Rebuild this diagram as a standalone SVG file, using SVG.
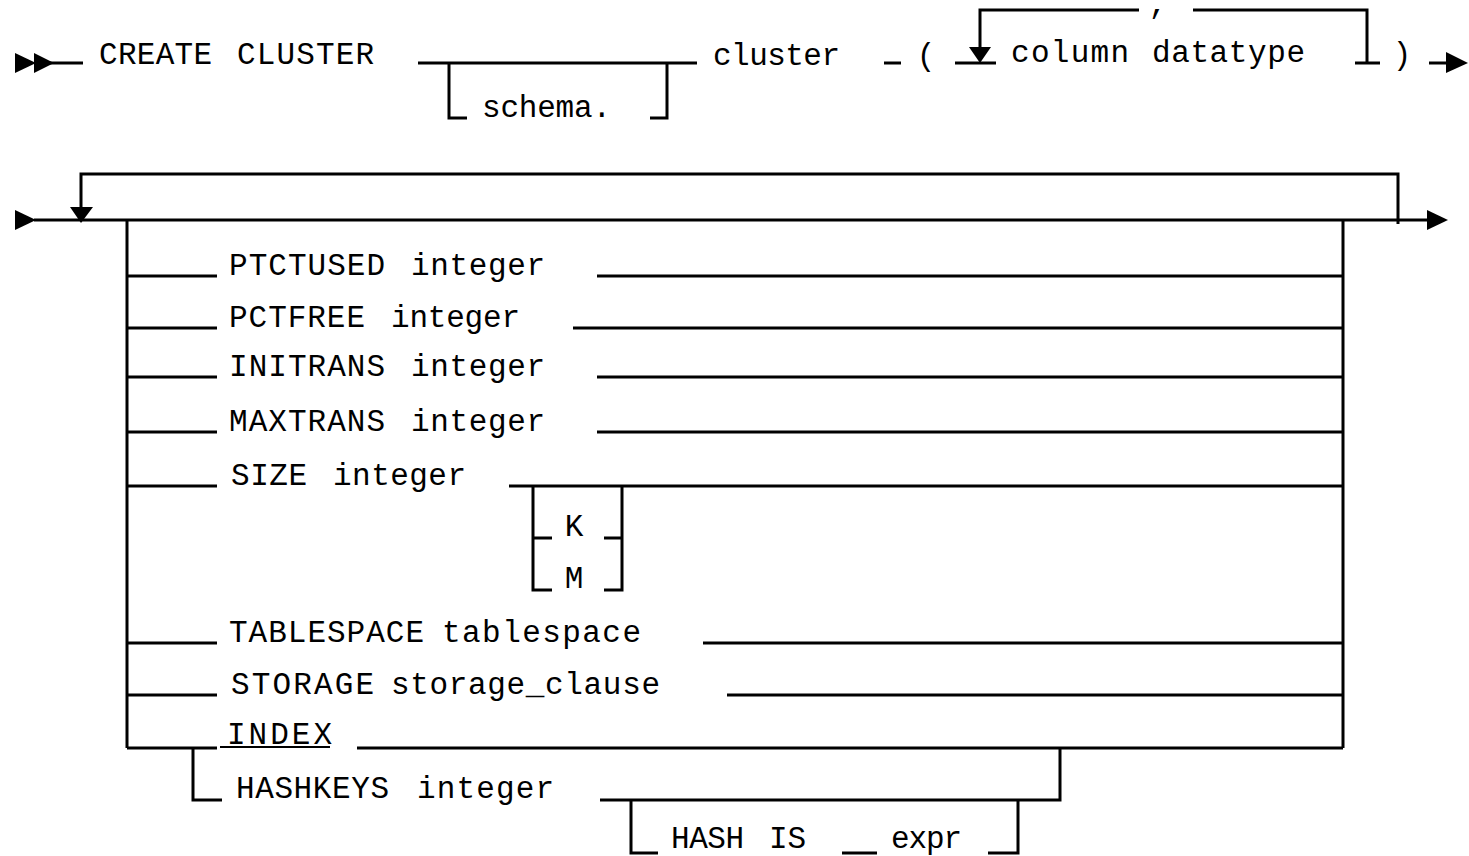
<svg xmlns="http://www.w3.org/2000/svg" width="1469" height="856" viewBox="0 0 1469 856">
<style>
.t{font-family:"Liberation Mono","DejaVu Sans Mono",monospace;font-size:31px;fill:#000}
.c{text-anchor:middle}
.w{fill:none;stroke:#000;stroke-width:3;stroke-linejoin:miter}
.a{fill:#000;stroke:none}
</style>
<rect width="1469" height="856" fill="#fff"/>
<g id="connectors">
<path class="w" d="M50,63 H83"/>
<path class="w" d="M418,63 H697 M449,63 V118 H467 M650,118 H667 V63"/>
<path class="w" d="M884,63 H901"/>
<path class="w" d="M955,63 H996 M980,48 V10 H1139 M1193,10 H1367 V63 M1355,63 H1380"/>
<path class="w" d="M1429,63 H1448"/>
<polygon class="a" points="15,53 36,63 15,73"/>
<polygon class="a" points="34,53 54,63 34,73"/>
<polygon class="a" points="969,47 991,47 980,63"/>
<polygon class="a" points="1446,52 1468,63 1446,73"/>
<path class="w" d="M34,220 H1429 M81,208 V174 H1398 V224"/>
<polygon class="a" points="15,210 36,220 15,230"/>
<polygon class="a" points="70,207 93,207 81,223"/>
<polygon class="a" points="1427,210 1448,220 1427,230"/>
<path class="w" d="M127,220 V748 M1343,220 V748"/>
<path class="w" d="M127,276 H217 M597,276 H1343"/>
<path class="w" d="M127,328 H217 M573,328 H1343"/>
<path class="w" d="M127,377 H217 M597,377 H1343"/>
<path class="w" d="M127,432 H217 M597,432 H1343"/>
<path class="w" d="M127,486 H217 M509,486 H1343"/>
<path class="w" d="M533,486 V590 H552 M533,538 H552 M604,538 H622 M604,590 H622 V486"/>
<path class="w" d="M127,643 H217 M703,643 H1343"/>
<path class="w" d="M127,695 H217 M727,695 H1343"/>
<path class="w" d="M127,748 H217 M357,748 H1343"/>
<path class="w" d="M193,748 V800 H222 M600,800 H1060 V748"/>
<path class="w" d="M631,800 V853 H658 M842,853 H877 M988,853 H1018 V800"/>
</g>
<g id="n-create"><text class="t" x="99" y="64" textLength="113">CREATE</text><text class="t" x="237" y="64" textLength="137">CLUSTER</text></g>
<g id="n-schema"><text class="t" x="482" y="117" textLength="129">schema.</text></g>
<g id="n-cluster"><text class="t" x="713" y="65" textLength="127">cluster</text></g>
<g id="n-lparen"><text class="t c" x="926" y="65">(</text></g>
<g id="n-column"><text class="t" x="1011" y="62" textLength="118">column</text><text class="t" x="1152" y="62" textLength="153">datatype</text></g>
<g id="n-comma"><text class="t c" x="1158" y="13">,</text></g>
<g id="n-rparen"><text class="t c" x="1402" y="64">)</text></g>
<g id="n-ptctused"><text class="t" x="229" y="275" textLength="156">PTCTUSED</text><text class="t" x="411" y="275" textLength="134">integer</text></g>
<g id="n-pctfree"><text class="t" x="229" y="327" textLength="136">PCTFREE</text><text class="t" x="391" y="327" textLength="129">integer</text></g>
<g id="n-initrans"><text class="t" x="229" y="376" textLength="156">INITRANS</text><text class="t" x="411" y="376" textLength="134">integer</text></g>
<g id="n-maxtrans"><text class="t" x="229" y="431" textLength="156">MAXTRANS</text><text class="t" x="411" y="431" textLength="134">integer</text></g>
<g id="n-size"><text class="t" x="231" y="485" textLength="76">SIZE</text><text class="t" x="333" y="485" textLength="133">integer</text></g>
<g id="n-k"><text class="t c" x="574" y="536">K</text></g>
<g id="n-m"><text class="t c" x="574" y="588">M</text></g>
<g id="n-tablespace"><text class="t" x="229" y="642" textLength="195">TABLESPACE</text><text class="t" x="442" y="642" textLength="199">tablespace</text></g>
<g id="n-storage"><text class="t" x="231" y="694" textLength="143">STORAGE</text><text class="t" x="391" y="694" textLength="269">storage_clause</text></g>
<g id="n-index"><text class="t" x="227" y="744" textLength="105">INDEX</text><path d="M220,747 H330" stroke="#000" stroke-width="2"/></g>
<g id="n-hashkeys"><text class="t" x="236" y="798" textLength="153">HASHKEYS</text><text class="t" x="417" y="798" textLength="137">integer</text></g>
<g id="n-hashis"><text class="t" x="671" y="848" textLength="73">HASH</text><text class="t" x="769" y="848">IS</text><text class="t" x="891" y="848" textLength="71">expr</text></g>
</svg>
